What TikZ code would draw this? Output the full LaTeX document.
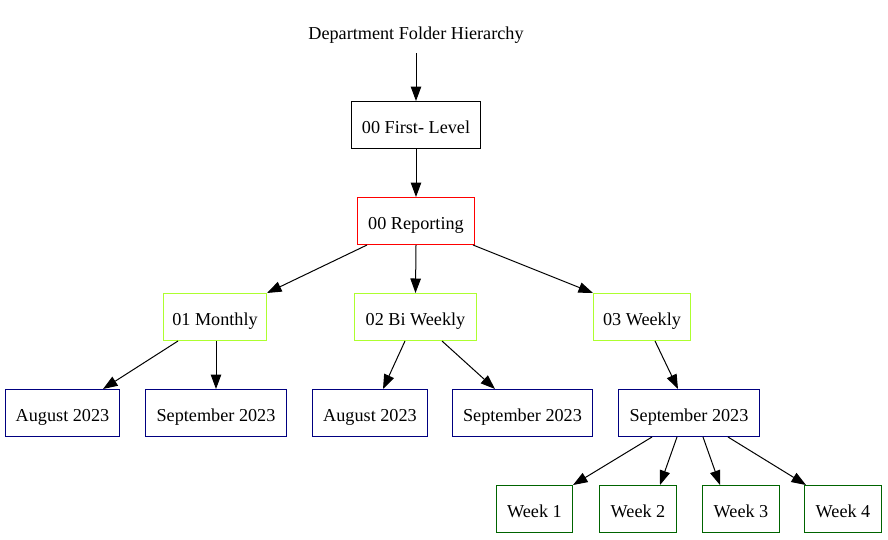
\documentclass[tikz,border=0pt]{standalone}
\usepackage{fontspec}
\setmainfont{Liberation Serif}
\usetikzlibrary{arrows.meta}
\definecolor{gvgreenyellow}{HTML}{ADFF2F}
\definecolor{gvnavy}{HTML}{000080}
\definecolor{gvdarkgreen}{HTML}{006400}
\definecolor{gvred}{HTML}{FF0000}
\tikzset{
  box/.style={draw, line width=1pt, inner sep=0pt, minimum height=47pt, text height=16.6pt, text depth=0pt, font=\fontsize{18.2}{22}\selectfont},
  plain/.style={inner sep=0pt, minimum height=44pt, text height=16.6pt, text depth=0pt, font=\fontsize{18.2}{22}\selectfont},
  edge/.style={draw, line width=1pt, -{Triangle[length=14.5pt,width=10.5pt]}}
}
\begin{document}
\begin{tikzpicture}[x=1pt,y=-1pt]
\useasboundingbox (0,0) rectangle (888,539);
\node[plain] (title) at (416,31) {Department Folder Hierarchy};
\node[box, minimum width=129pt] (first) at (416,125) {00 First- Level};
\node[box, draw=gvred, minimum width=117pt] (rep) at (416,221) {00 Reporting};
\node[box, draw=gvgreenyellow, minimum width=103pt] (mon) at (215,317) {01 Monthly};
\node[box, draw=gvgreenyellow, minimum width=122pt] (bi) at (415.5,317) {02 Bi Weekly};
\node[box, draw=gvgreenyellow, minimum width=97pt] (wk) at (642,317) {03 Weekly};
\node[box, draw=gvnavy, minimum width=114pt] (aug1) at (62.5,413) {August 2023};
\node[box, draw=gvnavy, minimum width=141pt] (sep1) at (216,413) {September 2023};
\node[box, draw=gvnavy, minimum width=115pt] (aug2) at (370,413) {August 2023};
\node[box, draw=gvnavy, minimum width=140pt] (sep2) at (522.5,413) {September 2023};
\node[box, draw=gvnavy, minimum width=141pt] (sep3) at (689,413) {September 2023};
\node[box, draw=gvdarkgreen, minimum width=76pt] (w1) at (534.5,509) {Week 1};
\node[box, draw=gvdarkgreen, minimum width=77pt] (w2) at (638,509) {Week 2};
\node[box, draw=gvdarkgreen, minimum width=77pt] (w3) at (741,509) {Week 3};
\node[box, draw=gvdarkgreen, minimum width=77pt] (w4) at (843,509) {Week 4};

\path[edge] (title.south) -- (first.north);
\path[edge] (first.south) -- (rep.north);
\path[edge] ([xshift=-49pt]rep.south) -- (mon.north east);
\path[edge] (rep.south) -- (bi.north);
\path[edge] ([xshift=57pt]rep.south) -- (wk.north west);
\path[edge] ([xshift=-37pt]mon.south) -- ([xshift=40.5pt]aug1.north);
\path[edge] ([xshift=1pt]mon.south) -- (sep1.north);
\path[edge] ([xshift=-10.5pt]bi.south) -- ([xshift=13pt]aug2.north);
\path[edge] ([xshift=26.5pt]bi.south) -- ([xshift=-27.5pt]sep2.north);
\path[edge] ([xshift=13pt]wk.south) -- ([xshift=-11pt]sep3.north);
\path[edge] ([xshift=-37pt]sep3.south) -- (w1.north east);
\path[edge] ([xshift=-12pt]sep3.south) -- ([xshift=22pt]w2.north);
\path[edge] ([xshift=14pt]sep3.south) -- ([xshift=-21pt]w3.north);
\path[edge] ([xshift=39pt]sep3.south) -- ([xshift=2pt]w4.north west);
\end{tikzpicture}
\end{document}
